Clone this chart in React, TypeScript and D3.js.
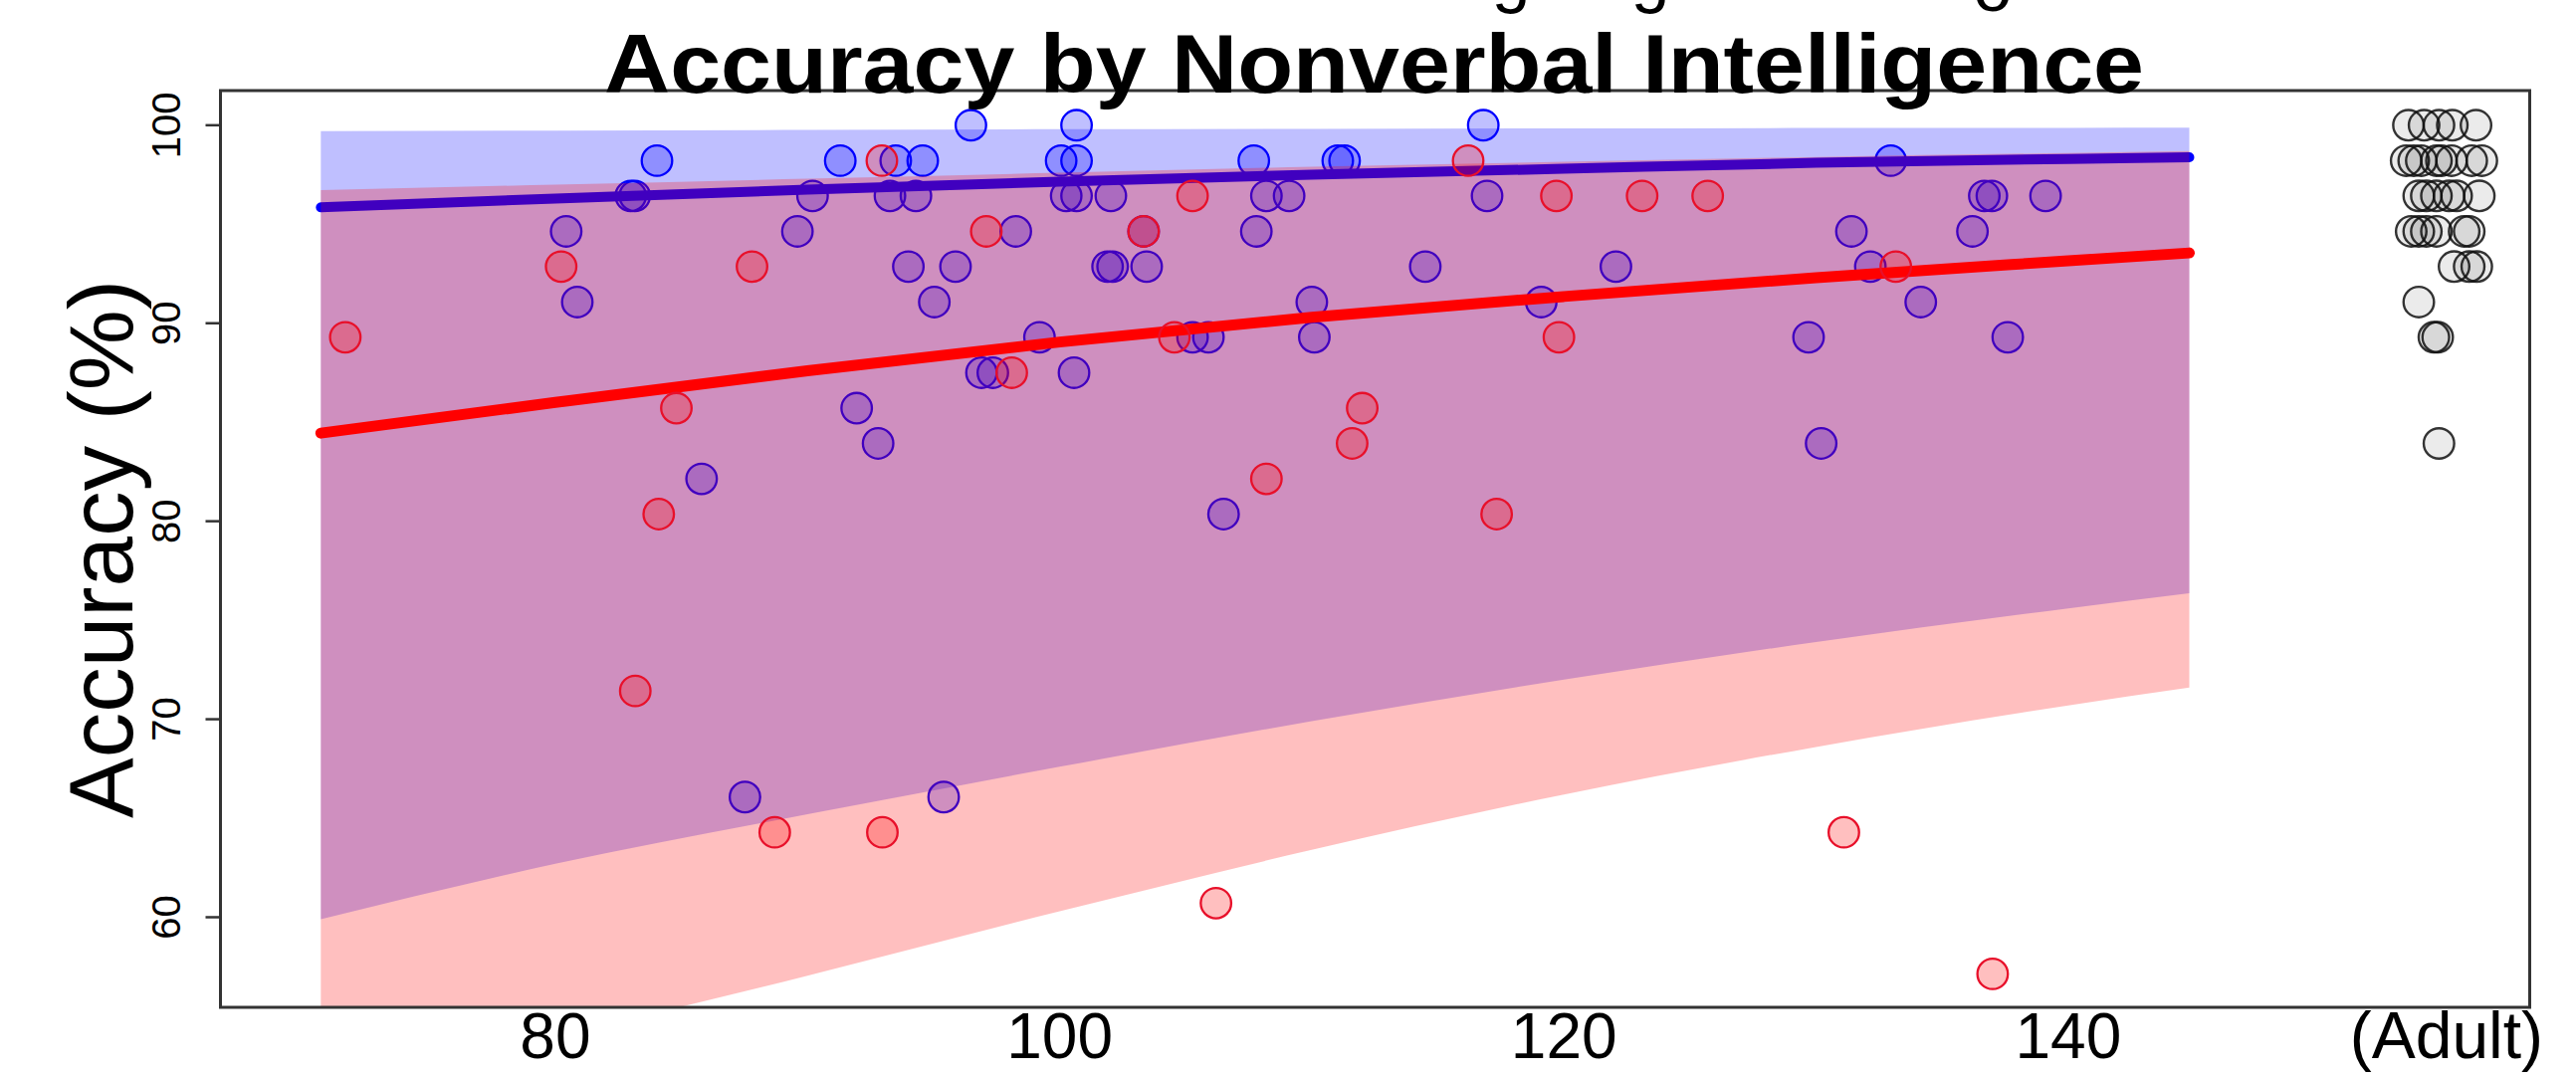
import React from 'react';
import * as d3 from 'd3';

// ---- data ----
const blueIQ = [80.43, 80.87, 82.99, 83.15, 84.03, 85.8, 87.52, 89.6, 90.2, 91.3, 91.95, 92.8, 93.27, 93.5, 94.0, 94.3, 94.57, 95.03, 95.4, 95.87, 96.48, 96.9, 97.35, 98.26, 99.2, 100.06, 100.67, 100.67, 100.26, 100.67, 100.57, 102.03, 101.9, 102.1, 103.45, 103.33, 105.27, 105.9, 106.5, 107.7, 108.2, 109.1, 107.8, 110.0, 110.1, 111.03, 111.3, 114.5, 116.8, 116.95, 119.1, 122.06, 129.7, 130.2, 131.4, 132.15, 132.96, 134.15, 136.2, 136.67, 136.97, 137.6, 139.1];
const blueAcc = [94.64, 91.07, 96.43, 96.43, 98.21, 82.14, 66.07, 94.64, 96.43, 98.21, 85.71, 83.93, 96.43, 98.21, 92.86, 96.43, 98.21, 91.07, 66.07, 92.86, 100, 87.5, 87.5, 94.64, 89.29, 98.21, 98.21, 100, 96.43, 96.43, 87.5, 96.43, 92.86, 92.86, 92.86, 94.64, 89.29, 89.29, 80.36, 98.21, 96.43, 96.43, 94.64, 91.07, 89.29, 98.21, 98.21, 92.86, 100, 96.43, 91.07, 92.86, 89.29, 83.93, 94.64, 92.86, 98.21, 91.07, 94.64, 96.43, 96.43, 89.29, 96.43];

const redIQ = [71.67, 80.23, 83.17, 84.1, 84.8, 87.8, 88.7, 92.95, 92.97, 97.09, 98.1, 103.33, 104.55, 105.27, 106.2, 108.2, 111.6, 112.0, 116.2, 117.33, 119.7, 119.8, 123.1, 125.7, 131.1, 133.16, 137.0];
const redAcc = [89.29, 92.86, 71.43, 80.36, 85.71, 92.86, 64.29, 98.21, 64.29, 94.64, 87.5, 94.64, 89.29, 96.43, 60.71, 82.14, 83.93, 85.71, 98.21, 80.36, 96.43, 89.29, 96.43, 96.43, 64.29, 92.86, 57.14];

const adultPos = [153.49, 154.11, 154.7, 155.23, 156.17, 153.4, 153.7, 154.0, 154.6, 154.8, 155.2, 156.0, 156.4, 153.9, 154.2, 154.6, 155.1, 155.4, 156.3, 153.6, 153.9, 154.2, 154.6, 155.7, 155.9, 155.3, 155.9, 156.2, 153.9, 154.5, 154.65, 154.7];
const adultAcc = [100, 100, 100, 100, 100, 98.21, 98.21, 98.21, 98.21, 98.21, 98.21, 98.21, 98.21, 96.43, 96.43, 96.43, 96.43, 96.43, 96.43, 94.64, 94.64, 94.64, 94.64, 94.64, 94.64, 92.86, 92.86, 92.86, 91.07, 89.29, 89.29, 83.93];

const fitIQ = [70.7, 80, 90, 100, 110, 120, 130, 140, 144.8];
const blueFit = [95.85, 96.3, 96.75, 97.15, 97.5, 97.8, 98.1, 98.3, 98.38];
const blueUpper = [99.7, 99.73, 99.76, 99.8, 99.82, 99.84, 99.86, 99.87, 99.88];
const blueLower = [59.9, 62.7, 65.2, 67.6, 69.9, 72.0, 73.9, 75.6, 76.36];
const redFit = [84.45, 86.0, 87.6, 89.05, 90.3, 91.35, 92.3, 93.15, 93.55];
const redUpper = [96.72, 97.0, 97.3, 97.6, 97.9, 98.15, 98.4, 98.6, 98.7];
const redLower = [50.8, 53.9, 57.05, 60.3, 63.4, 66.2, 68.6, 70.7, 71.6];

const xTicks = [80, 100, 120, 140];
const xTickLabels = ['80', '100', '120', '140'];
const adultTickPos = 155;
const adultTickLabel = '(Adult)';
const yTicks = [60, 70, 80, 90, 100];
const yTickLabels = ['60', '70', '80', '90', '100'];

const title = 'Accuracy by Nonverbal Intelligence';
const yTitle = 'Accuracy (%)';

export default function App() {
  const W = 2588;
  const H = 1082;
  const left = 221.5, right = 2541.5, top = 91, bottom = 1012;
  const x = d3.scaleLinear().domain([66.72, 158.3]).range([left, right]);
  const y = d3.scaleLinear().domain([55.45, 101.75]).range([bottom, top]);

  const band = (lo: number[], hi: number[]) =>
    d3.area<number>()
      .x((d) => x(d))
      .y0((_, i) => y(lo[i]))
      .y1((_, i) => y(hi[i]))
      .curve(d3.curveMonotoneX)(fitIQ) || '';
  const line = (v: number[]) =>
    d3.line<number>()
      .x((d) => x(d))
      .y((_, i) => y(v[i]))
      .curve(d3.curveMonotoneX)(fitIQ) || '';

  const r = 15.3;
  const font = "'Liberation Sans', Arial, Helvetica, sans-serif";

  return (
    <svg width={W} height={H} viewBox={`0 0 ${W} ${H}`}
      style={{ position: 'absolute', left: 0, top: 0, background: '#fff' }}
      fontFamily={font}>
      <rect x={0} y={0} width={W} height={H} fill="#fff" />
      <defs>
        <clipPath id="plotclip">
          <rect x={left} y={top} width={right - left} height={bottom - top} />
        </clipPath>
      </defs>
      <g clipPath="url(#plotclip)">
        <path d={band(blueLower, blueUpper)} fill="#0000ff" fillOpacity={0.25} />
        <path d={line(blueFit)} fill="none" stroke="#0000ff" strokeWidth={10} strokeLinecap="round" />
        {blueIQ.map((v, i) => (
          <circle key={'b' + i} cx={x(v)} cy={y(blueAcc[i])} r={r}
            fill="#0000ff" fillOpacity={0.25} stroke="#0000ff" strokeWidth={2.3} />
        ))}
        <path d={band(redLower, redUpper)} fill="#ff0000" fillOpacity={0.25} />
        <path d={line(redFit)} fill="none" stroke="#ff0000" strokeWidth={11} strokeLinecap="round" />
        {redIQ.map((v, i) => (
          <circle key={'r' + i} cx={x(v)} cy={y(redAcc[i])} r={r}
            fill="#ff0000" fillOpacity={0.25} stroke="#e8102a" strokeWidth={2.3} />
        ))}
        {adultPos.map((v, i) => (
          <circle key={'a' + i} cx={x(v)} cy={y(adultAcc[i])} r={r}
            fill="#000" fillOpacity={0.08} stroke="#111" strokeOpacity={0.85} strokeWidth={2.4} />
        ))}
      </g>

      {/* frame */}
      <rect x={left} y={top} width={right - left} height={bottom - top}
        fill="none" stroke="#333" strokeWidth={3} />

      {/* y axis ticks and labels */}
      {yTicks.map((t, i) => (
        <g key={'yt' + i}>
          <line x1={left - 15} x2={left} y1={y(t)} y2={y(t)} stroke="#333" strokeWidth={2.5} />
          <text transform={`translate(181,${y(t)}) rotate(-90)`} textAnchor="middle"
            fontSize={40} fill="#000">{yTickLabels[i]}</text>
        </g>
      ))}

      {/* x labels */}
      {xTicks.map((t, i) => (
        <text key={'xt' + i} x={x(t)} y={1063} textAnchor="middle" fontSize={64} fill="#000">
          {xTickLabels[i]}
        </text>
      ))}
      <text x={x(adultTickPos)} y={1063} textAnchor="middle" fontSize={66} fill="#000">
        {adultTickLabel}
      </text>

      {/* axis title */}
      <text transform={`translate(133,${(top + bottom) / 2}) rotate(-90)`} textAnchor="middle"
        fontSize={91} fill="#000">{yTitle}</text>

      {/* cut-off text fragments at the very top */}
      <text x={1518} y={-1} textAnchor="middle" fontSize={70} fill="#000">g</text>
      <text x={1658} y={-1} textAnchor="middle" fontSize={70} fill="#000">g</text>
      <text x={2002} y={11} textAnchor="middle" fontSize={70} fill="#000">o</text>

      {/* main title */}
      <text x={607} y={93} fontSize={84} fontWeight="bold" fill="#000"
        textLength={1547} lengthAdjust="spacingAndGlyphs">{title}</text>
    </svg>
  );
}
